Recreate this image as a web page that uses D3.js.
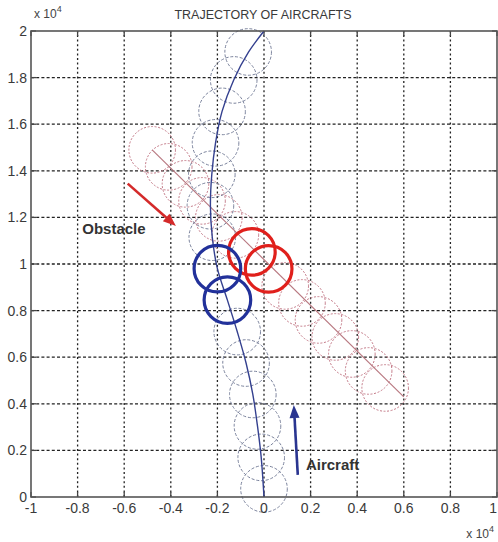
<!DOCTYPE html>
<meta charset="utf-8" />
<style>
  body { margin: 0; background: #fff; }
  svg { display: block; font-family: "Liberation Sans", Arial, sans-serif; }
  .tick-label { font-size: 14px; fill: #3a3a3a; }
</style>
<body>
<script src="https://d3js.org/d3.v7.min.js"></script>
<script>

// tick values (x 10^4)
var xTicks = [-1, -0.8, -0.6, -0.4, -0.2, 0, 0.2, 0.4, 0.6, 0.8, 1];
var yTicks = [0, 0.2, 0.4, 0.6, 0.8, 1, 1.2, 1.4, 1.6, 1.8, 2];

// aircraft path (blue line)
var aircraftPathX = [0, -0.012, -0.028, -0.048, -0.077, -0.115, -0.157, -0.2, -0.222, -0.23, -0.224, -0.208, -0.18, -0.13, -0.066, 0];
var aircraftPathY = [0, 0.17, 0.305, 0.44, 0.575, 0.71, 0.845, 0.98, 1.115, 1.25, 1.385, 1.52, 1.655, 1.79, 1.91, 2];

// aircraft safety circles (centres)
var aircraftCircleX = [0, -0.012, -0.028, -0.048, -0.077, -0.115, -0.157, -0.2, -0.222, -0.23, -0.224, -0.208, -0.18, -0.13, -0.068];
var aircraftCircleY = [0.035, 0.17, 0.305, 0.44, 0.575, 0.71, 0.845, 0.98, 1.115, 1.25, 1.385, 1.52, 1.655, 1.79, 1.91];
var aircraftBold = [6, 7];   // conflict positions

// obstacle path (red line)
var obstaclePathX = [-0.48, 0.6];
var obstaclePathY = [1.49, 0.43];

// obstacle circles (centres)
var obstacleCircleX = [-0.48, -0.409, -0.337, -0.266, -0.194, -0.123, -0.052, 0.02, 0.091, 0.163, 0.234, 0.306, 0.377, 0.449, 0.52];
var obstacleCircleY = [1.49, 1.417, 1.344, 1.271, 1.198, 1.125, 1.052, 0.979, 0.906, 0.833, 0.76, 0.687, 0.614, 0.541, 0.468];
var obstacleBold = [6, 7];

var radius = 0.1;

var W = 498, H = 542;
var x = d3.scaleLinear().domain([-1, 1]).range([31, 497]);
var y = d3.scaleLinear().domain([0, 2]).range([497, 31]);
var rPx = x(radius) - x(0);

var svg = d3.select("body").append("svg")
    .attr("width", W)
    .attr("height", H);

// grid
svg.append("g").selectAll("line").data(xTicks.slice(1, -1)).enter().append("line")
    .attr("x1", function(d) { return x(d); }).attr("x2", function(d) { return x(d); })
    .attr("y1", y(0)).attr("y2", y(2))
    .attr("stroke", "#222").attr("stroke-width", 1.3)
    .attr("stroke-dasharray", "2,2.6");
svg.append("g").selectAll("line").data(yTicks.slice(1, -1)).enter().append("line")
    .attr("y1", function(d) { return y(d); }).attr("y2", function(d) { return y(d); })
    .attr("x1", x(-1)).attr("x2", x(1))
    .attr("stroke", "#222").attr("stroke-width", 1.3)
    .attr("stroke-dasharray", "3,2.2");

// tick marks (inward, all four sides)
var tl = 5;
xTicks.forEach(function(d) {
  svg.append("line").attr("x1", x(d)).attr("x2", x(d)).attr("y1", y(0)).attr("y2", y(0) - tl)
     .attr("stroke", "#444").attr("stroke-width", 1.3);
  svg.append("line").attr("x1", x(d)).attr("x2", x(d)).attr("y1", y(2)).attr("y2", y(2) + tl)
     .attr("stroke", "#444").attr("stroke-width", 1.3);
});
yTicks.forEach(function(d) {
  svg.append("line").attr("y1", y(d)).attr("y2", y(d)).attr("x1", x(-1)).attr("x2", x(-1) + tl)
     .attr("stroke", "#444").attr("stroke-width", 1.3);
  svg.append("line").attr("y1", y(d)).attr("y2", y(d)).attr("x1", x(1)).attr("x2", x(1) - tl)
     .attr("stroke", "#444").attr("stroke-width", 1.3);
});

// obstacle dashed circles
svg.append("g").selectAll("circle").data(obstacleCircleX).enter().append("circle")
    .attr("cx", function(d) { return x(d); })
    .attr("cy", function(d, i) { return y(obstacleCircleY[i]); })
    .attr("r", rPx)
    .attr("fill", "none")
    .attr("stroke", "#c47a88").attr("stroke-width", 1)
    .attr("stroke-dasharray", "2,1.6");

// aircraft dashed circles
svg.append("g").selectAll("circle").data(aircraftCircleX).enter().append("circle")
    .attr("cx", function(d) { return x(d); })
    .attr("cy", function(d, i) { return y(aircraftCircleY[i]); })
    .attr("r", rPx)
    .attr("fill", "none")
    .attr("stroke", "#7a829c").attr("stroke-width", 1)
    .attr("stroke-dasharray", "3,1.8");

// paths
var line = d3.line().curve(d3.curveCatmullRom)
    .x(function(d) { return x(d[0]); })
    .y(function(d) { return y(d[1]); });

svg.append("path")
    .datum(obstaclePathX.map(function(d, i) { return [d, obstaclePathY[i]]; }))
    .attr("d", line)
    .attr("fill", "none").attr("stroke", "#b87880").attr("stroke-width", 1.2);

svg.append("path")
    .datum(aircraftPathX.map(function(d, i) { return [d, aircraftPathY[i]]; }))
    .attr("d", line)
    .attr("fill", "none").attr("stroke", "#34408f").attr("stroke-width", 1.4);

// bold conflict circles
svg.append("g").selectAll("circle").data(obstacleBold).enter().append("circle")
    .attr("cx", function(i) { return x(obstacleCircleX[i]); })
    .attr("cy", function(i) { return y(obstacleCircleY[i]); })
    .attr("r", rPx)
    .attr("fill", "none").attr("stroke", "#e0201c").attr("stroke-width", 3.2);

svg.append("g").selectAll("circle").data(aircraftBold).enter().append("circle")
    .attr("cx", function(i) { return x(aircraftCircleX[i]); })
    .attr("cy", function(i) { return y(aircraftCircleY[i]); })
    .attr("r", rPx)
    .attr("fill", "none").attr("stroke", "#22319a").attr("stroke-width", 3.2);

// axes box
svg.append("rect")
    .attr("x", x(-1)).attr("y", y(2))
    .attr("width", x(1) - x(-1)).attr("height", y(0) - y(2))
    .attr("fill", "none").attr("stroke", "#555").attr("stroke-width", 1.6);

// tick labels
svg.append("g").selectAll("text").data(xTicks).enter().append("text")
    .attr("class", "tick-label")
    .attr("x", function(d, i) { return i === xTicks.length - 1 ? W - 1 : x(d); })
    .attr("y", y(0) + 16)
    .attr("text-anchor", function(d, i) { return i === xTicks.length - 1 ? "end" : "middle"; })
    .text(function(d) { return String(d); });

svg.append("g").selectAll("text").data(yTicks).enter().append("text")
    .attr("class", "tick-label")
    .attr("x", x(-1) - 4)
    .attr("y", function(d) { return y(d) + 5; })
    .attr("text-anchor", "end")
    .text(function(d) { return String(d); });

// exponent labels
function exponent(px, py, anchor) {
  var t = svg.append("text").attr("x", px).attr("y", py)
      .attr("text-anchor", anchor)
      .style("font-size", "12px").style("fill", "#444");
  t.append("tspan").text("x 10");
  t.append("tspan").attr("dy", -6).style("font-size", "9px").text("4");
}
exponent(34, 18, "start");
exponent(494, 538, "end");

// title
svg.append("text")
    .attr("x", 263).attr("y", 19)
    .attr("text-anchor", "middle")
    .style("font-size", "12.5px").style("fill", "#3a3a3a")
    .text("TRAJECTORY OF AIRCRAFTS");

// annotations
function arrow(x1, y1, x2, y2, color) {
  var X1 = x(x1), Y1 = y(y1), X2 = x(x2), Y2 = y(y2);
  var a = Math.atan2(Y2 - Y1, X2 - X1), L = 13, w = 5;
  var bx = X2 - L * Math.cos(a), by = Y2 - L * Math.sin(a);
  svg.append("line").attr("x1", X1).attr("y1", Y1).attr("x2", bx).attr("y2", by)
     .attr("stroke", color).attr("stroke-width", 2.6);
  svg.append("path")
     .attr("d", "M" + X2 + "," + Y2 +
       "L" + (bx + w * Math.sin(a)) + "," + (by - w * Math.cos(a)) +
       "L" + (bx - w * Math.sin(a)) + "," + (by + w * Math.cos(a)) + "Z")
     .attr("fill", color);
}
arrow(-0.585, 1.345, -0.378, 1.163, "#d42a2a");
arrow(0.145, 0.095, 0.128, 0.395, "#2a3590");

svg.append("text")
    .attr("x", x(-0.78)).attr("y", y(1.13))
    .style("font-size", "15px").style("font-weight", "bold").style("fill", "#333")
    .text("Obstacle");

svg.append("text")
    .attr("x", x(0.18)).attr("y", y(0.115))
    .style("font-size", "15px").style("font-weight", "bold").style("fill", "#333")
    .text("Aircraft");

</script>
</body>
